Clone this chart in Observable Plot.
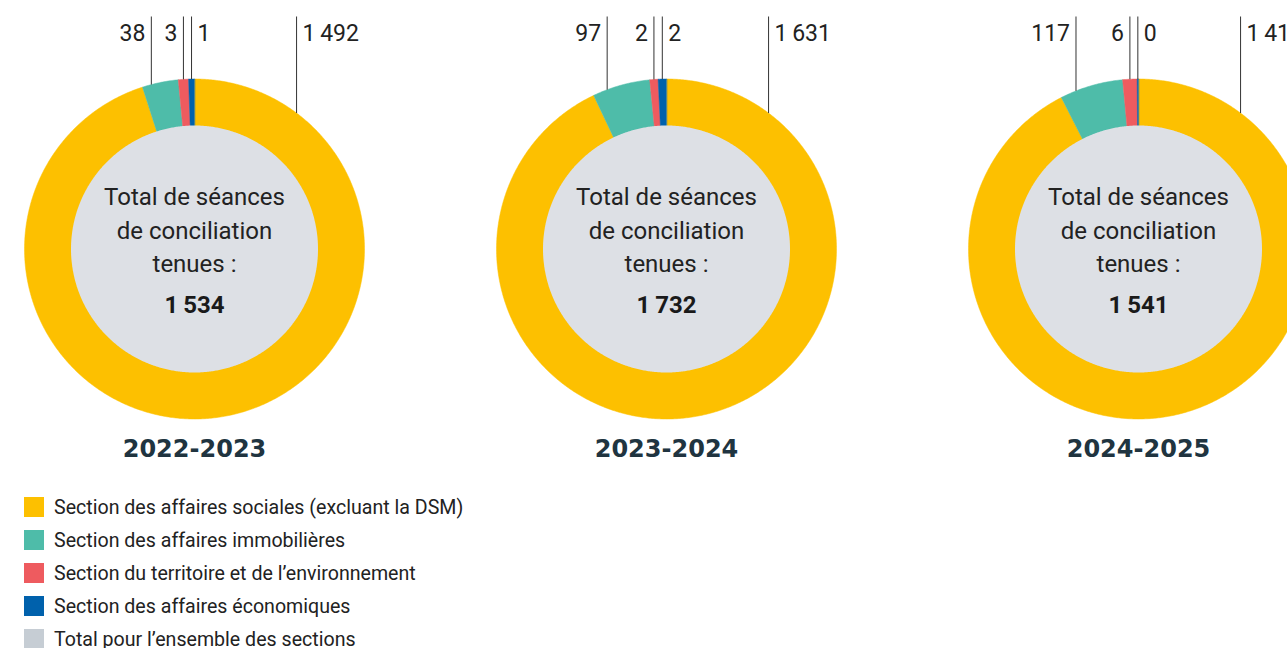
<!DOCTYPE html>
<html><head><meta charset="utf-8">
<script src="https://cdn.jsdelivr.net/npm/d3@7"></script>
<script src="https://cdn.jsdelivr.net/npm/@observablehq/plot@0.6"></script>
<style>
html,body{margin:0;padding:0;background:#fff;overflow:hidden;width:1287px;height:648px}
#legend{padding:17px 0 0 24px;font-family:Roboto,sans-serif;font-size:19.6px;color:#222}
.item{display:flex;align-items:center;height:20px;margin-bottom:13px}
.sw{width:20px;height:20px;margin-right:10px;flex:none}
</style></head>
<body><div id="chart"></div><div id="legend"></div>
<script>
// ---- data ----
const years = ["2022-2023", "2023-2024", "2024-2025"];
const sections = [
  "Section des affaires sociales (excluant la DSM)",
  "Section des affaires immobilières",
  "Section du territoire et de l’environnement",
  "Section des affaires économiques"
];
const totalLabel = "Total pour l’ensemble des sections";
const sociales     = [1492, 1631, 1418];
const immobilieres = [38, 97, 117];
const territoire   = [3, 2, 6];
const economiques  = [1, 2, 0];
const centerText = "Total de séances\nde conciliation\ntenues :";
const sectionColors = ["#FDC000", "#4EBCA9", "#EE5B5F", "#0061AC"];
const centerColor = "#DDE0E5";
const legendTotalColor = "#C6CDD4";

// ---- layout ----
const W = 1287, H = 480;
const cy = 248.5, R = 170, rIn = 123.5;
const cxScale = d3.scalePoint().domain(years).range([194, 1138]);
const fmt = d3.formatLocale({decimal: ",", thousands: "\u2009", grouping: [3]}).format(",d");
// small sections are enlarged (sqrt) for legibility, as in the original; the social section fills the rest
const smallAngle = v => Math.max(0.45, 2 * Math.sqrt(v));
const series = [sociales, immobilieres, territoire, economiques];

const wedges = [], leaders = [], centers = [];
years.forEach((year, i) => {
  const cx = cxScale(year);
  const vals = series.map(s => s[i]);
  // angles clockwise from 12 o'clock; small sections sit just left of the top
  const aB = smallAngle(vals[3]), aR = smallAngle(vals[2]), aT = smallAngle(vals[1]);
  const spans = [
    [0, 360 - aB - aR - aT],
    [360 - aB - aR - aT, 360 - aB - aR],
    [360 - aB - aR, 360 - aB],
    [360 - aB, 360]
  ];
  const leaderAt = [
    () => 36.9,
    ([a0, a1]) => a0 + 0.25 * (a1 - a0),
    ([a0, a1]) => (a0 + a1) / 2,
    ([a0, a1]) => (a0 + a1) / 2
  ];
  const sides = ["right", "left", "left", "right"];
  spans.forEach(([a0, a1], k) => {
    const key = year + k;
    wedges.push({key, section: sections[k], x: cx, y: cy});
    const n = Math.max(2, Math.ceil((a1 - a0) / 0.5) + 1);
    for (let j = 0; j < n; j++) {
      const a = (a0 + (a1 - a0) * j / (n - 1)) * Math.PI / 180;
      wedges.push({key, section: sections[k], x: cx + R * Math.sin(a), y: cy - R * Math.cos(a)});
    }
    const t = leaderAt[k]([a0, a1]) * Math.PI / 180;
    leaders.push({year, section: sections[k], value: vals[k], side: sides[k],
      x: cx + R * Math.sin(t), y1: 16, y2: cy - R * Math.cos(t)});
  });
  for (let j = 0; j < 720; j++) {
    const a = j / 2 * Math.PI / 180;
    centers.push({year, x: cx + rIn * Math.sin(a), y: cy - rIn * Math.cos(a)});
  }
});
const totals = years.map((year, i) => ({year, total: d3.sum(series, s => s[i])}));

const plot = Plot.plot({
  width: W, height: H, margin: 0,
  x: {domain: [0, W], range: [0, W], axis: null},
  y: {domain: [0, H], range: [0, H], axis: null},
  color: {domain: sections, range: sectionColors},
  style: {background: "white", overflow: "visible"},
  marks: [
    Plot.line(wedges, {x: "x", y: "y", z: "key", fill: "section", stroke: "section", strokeWidth: 0.5, curve: "linear-closed"}),
    Plot.line(centers, {x: "x", y: "y", z: "year", fill: centerColor, stroke: "none", curve: "linear-closed"}),
    Plot.link(leaders, {x1: "x", x2: "x", y1: "y1", y2: "y2", stroke: "#333", strokeWidth: 1}),
    Plot.text(leaders.filter(d => d.side === "left"), {x: "x", y: "y1", dy: 24, text: d => fmt(d.value), textAnchor: "end", dx: -6,
      lineAnchor: "bottom", fontFamily: "Roboto", fontSize: 23, fill: "#222"}),
    Plot.text(leaders.filter(d => d.side === "right"), {x: "x", y: "y1", dy: 24, text: d => fmt(d.value), textAnchor: "start", dx: 6,
      lineAnchor: "bottom", fontFamily: "Roboto", fontSize: 23, fill: "#222"}),
    Plot.text(years, {x: d => cxScale(d), y: () => 271.7, text: () => centerText, lineAnchor: "bottom", lineHeight: 1.4,
      fontFamily: "Roboto", fontSize: 24, fill: "#222"}),
    Plot.text(totals, {x: d => cxScale(d.year), y: () => 312, text: d => fmt(d.total), lineAnchor: "bottom",
      fontFamily: "Roboto", fontWeight: "bold", fontSize: 24, fill: "#1a1a1a"}),
    Plot.text(years, {x: d => cxScale(d), y: () => 456, text: d => d, lineAnchor: "bottom",
      fontFamily: "DejaVu Sans", fontWeight: "bold", fontSize: 24, fill: "#203440"})
  ]
});
document.getElementById("chart").appendChild(plot);

const legend = document.getElementById("legend");
[...sections, totalLabel].forEach((s, k) => {
  const it = document.createElement("div");
  it.className = "item";
  const sw = document.createElement("div");
  sw.className = "sw";
  sw.style.background = k < sections.length ? sectionColors[k] : legendTotalColor;
  const tx = document.createElement("span");
  tx.textContent = s;
  it.appendChild(sw); it.appendChild(tx);
  legend.appendChild(it);
});
</script>
</body></html>
